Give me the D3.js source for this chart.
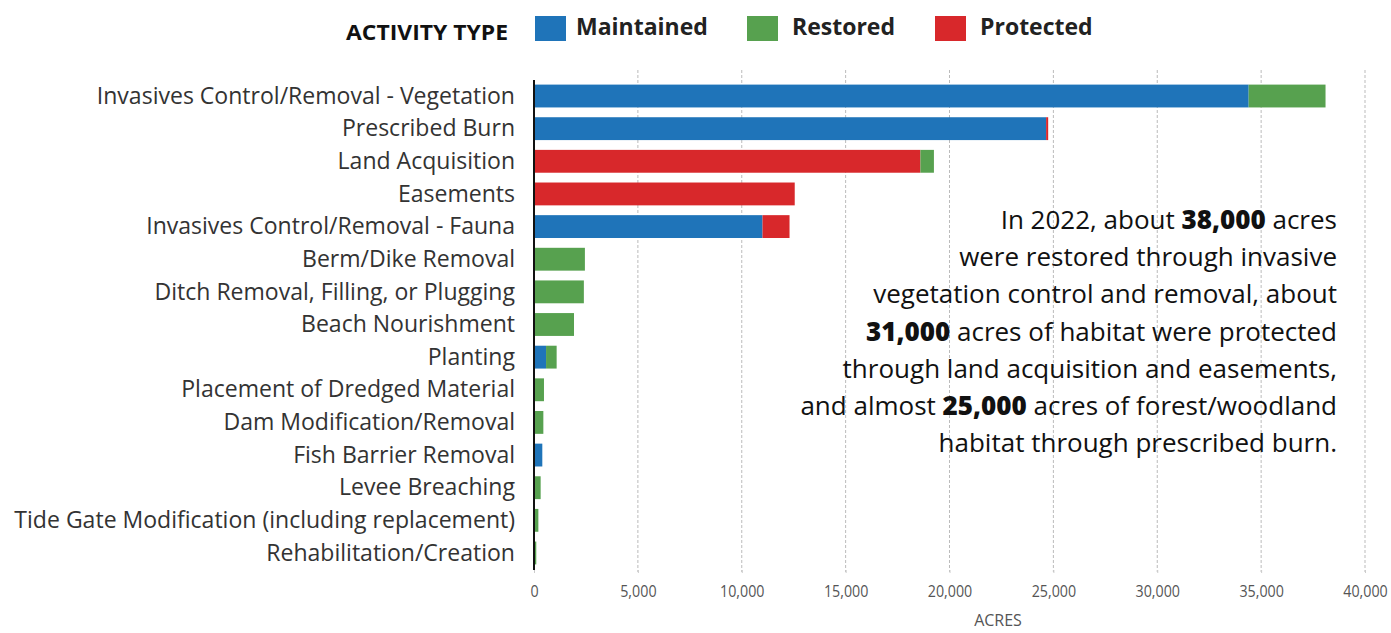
<!DOCTYPE html>
<html><head><meta charset="utf-8">
<script src="https://cdn.jsdelivr.net/npm/d3@7"></script>
<style>
html,body{margin:0;padding:0;background:#fff;}
svg{display:block;font-family:"Open Sans",sans-serif;}
</style></head>
<body>
<svg id="chart" width="1391" height="633"></svg>
<script>
const categories = [
  "Invasives Control/Removal - Vegetation",
  "Prescribed Burn",
  "Land Acquisition",
  "Easements",
  "Invasives Control/Removal - Fauna",
  "Berm/Dike Removal",
  "Ditch Removal, Filling, or Plugging",
  "Beach Nourishment",
  "Planting",
  "Placement of Dredged Material",
  "Dam Modification/Removal",
  "Fish Barrier Removal",
  "Levee Breaching",
  "Tide Gate Modification (including replacement)",
  "Rehabilitation/Creation"
];
const seriesNames = ["Maintained", "Protected", "Restored"];
const maintained = [34400, 24650, 0, 0, 11000, 0, 0, 0, 580, 0, 0, 400, 0, 0, 0];
const protectedVals = [0, 100, 18600, 12550, 1300, 0, 0, 0, 0, 0, 0, 0, 0, 0, 0];
const restored = [3700, 0, 650, 0, 0, 2450, 2400, 1925, 510, 480, 450, 0, 320, 210, 110];
const xTicks = [0, 5000, 10000, 15000, 20000, 25000, 30000, 35000, 40000];
const legendItems = ["Maintained", "Restored", "Protected"];
const colors = {Maintained: "#1f74b9", Restored: "#57a14f", Protected: "#d8282b"};
const noteLines = [
  [["In 2022, about ", false], ["38,000", true], [" acres", false]],
  [["were restored through invasive", false]],
  [["vegetation control and removal, about", false]],
  [["31,000", true], [" acres of habitat were protected", false]],
  [["through land acquisition and easements,", false]],
  [["and almost ", false], ["25,000", true], [" acres of forest/woodland", false]],
  [["habitat through prescribed burn.", false]]
];

const rows = categories.map((c, i) => ({
  cat: c, Maintained: maintained[i], Protected: protectedVals[i], Restored: restored[i]
}));

const svg = d3.select("#chart");
const x = d3.scaleLinear().domain([0, 40000]).range([534, 1365]);
const y = d3.scaleBand().domain(categories).range([79.7, 569.3]).paddingInner(0.3).paddingOuter(0.15);

// gridlines
svg.append("g").selectAll("line").data(xTicks.filter(d => d > 0)).join("line")
  .attr("x1", d => x(d)).attr("x2", d => x(d))
  .attr("y1", 70).attr("y2", 572)
  .attr("stroke", "#bbb").attr("stroke-width", 1).attr("stroke-dasharray", "3,2");

// bars
const stack = d3.stack().keys(seriesNames)(rows);
svg.append("g").selectAll("g").data(stack).join("g")
  .attr("fill", d => colors[d.key])
  .selectAll("rect").data(d => d).join("rect")
  .attr("x", d => x(d[0]))
  .attr("width", d => Math.max(0, x(d[1]) - x(d[0])))
  .attr("y", d => y(d.data.cat))
  .attr("height", y.bandwidth());

// x axis
const xAxis = svg.append("g").attr("transform", "translate(0,570)")
  .call(d3.axisBottom(x).tickValues(xTicks).tickFormat(d3.format(",")).tickSize(3).tickPadding(12));
xAxis.select(".domain").remove();
xAxis.selectAll(".tick line").attr("stroke", "#ccc");
xAxis.selectAll("text").attr("font-size", 17).attr("fill", "#555").attr("font-family", "Open Sans")
  .attr("transform", "scale(0.84,1)");

svg.append("text").attr("x", 998).attr("y", 626).attr("text-anchor", "middle")
  .attr("font-size", 16).attr("fill", "#555").text("ACRES");

// y axis
const ys = 0.96;
const yAxis = svg.append("g").attr("transform", "translate(534,0)")
  .call(d3.axisLeft(y).tickSize(0).tickPadding(19));
yAxis.select(".domain").attr("stroke", "#111").attr("stroke-width", 2)
  .attr("d", "M0,80V570");
yAxis.selectAll("text").attr("font-size", 24).attr("fill", "#333").attr("font-family", "Open Sans")
  .attr("x", -19 / ys).attr("transform", `scale(${ys},1)`);

// legend
const lg = svg.append("g");
lg.append("text").attr("x", 346).attr("y", 40)
  .attr("font-size", 22).attr("font-weight", 700).attr("fill", "#111")
  .attr("textLength", 162).attr("lengthAdjust", "spacingAndGlyphs").text("ACTIVITY TYPE");
const legendX = [535, 747, 935];
const legendTextX = [576, 792, 980];
legendItems.forEach((k, i) => {
  lg.append("rect").attr("x", legendX[i]).attr("y", 16).attr("width", 31).attr("height", 25).attr("fill", colors[k]);
  lg.append("text").attr("x", legendTextX[i]).attr("y", 35).attr("font-size", 23)
    .attr("font-weight", 700).attr("fill", "#222").text(k);
});

// annotation
const note = svg.append("g");
noteLines.forEach((line, i) => {
  const t = note.append("text").attr("x", 1337).attr("y", 229 + i * 37.2)
    .attr("text-anchor", "end").attr("font-size", 26).attr("fill", "#111");
  line.forEach(([s, b]) => {
    t.append("tspan").attr("font-weight", b ? 800 : 400).text(s);
  });
});
</script>
</body></html>
